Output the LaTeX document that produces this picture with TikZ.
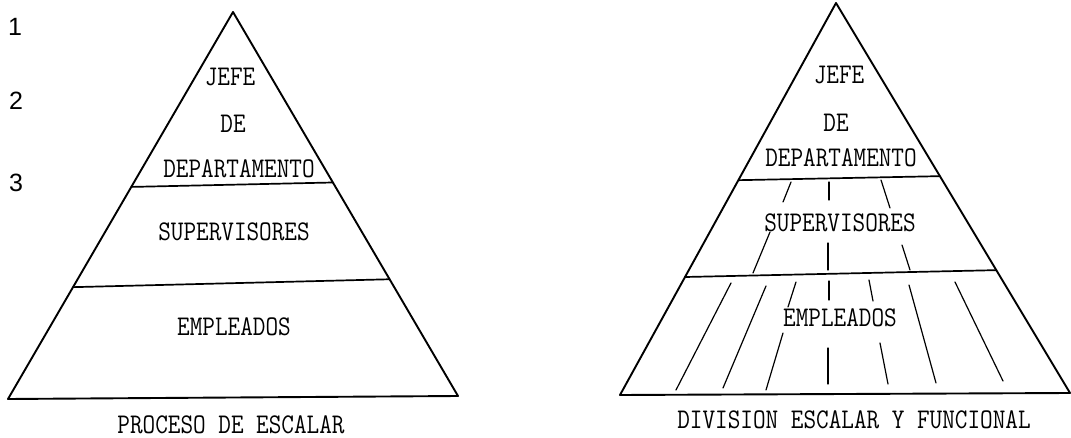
\documentclass[tikz,border=0pt]{standalone}
\usepackage{fontspec}
\usetikzlibrary{calc}
\newfontfamily\numfont{Liberation Sans}
\newcommand{\condtxt}[1]{\scalebox{0.86}[1]{#1}}
\tikzset{
  pedge/.style={line width=1.9pt, line cap=round, line join=round},
  divider/.style={line width=1.7pt, line cap=round},
  tickln/.style={line width=1.2pt, line cap=round},
  lbl/.style={font=\fontsize{28.5}{30}\selectfont\ttfamily\addfontfeatures{FakeBold=0.9}, inner sep=0pt},
  num/.style={font=\numfont\fontsize{25}{27}\selectfont, inner sep=0pt},
}
\begin{document}
\begin{tikzpicture}[x=1pt,y=-1pt]
\useasboundingbox (0,0) rectangle (1071,438);
% ---------- left pyramid ----------
\coordinate (LA) at (233,12);
\coordinate (LB) at (8,399);
\coordinate (LC) at (458,396);
\draw[pedge] (LB) -- (LA) -- (LC) -- cycle;
\coordinate (L1a) at ($(LA)!0.452!(LB)$);
\coordinate (L1b) at ($(LA)!0.444!(LC)$);
\coordinate (L2a) at ($(LA)!0.711!(LB)$);
\coordinate (L2b) at ($(LA)!0.696!(LC)$);
\draw[divider] (L1a) -- (L1b);
\draw[divider] (L2a) -- (L2b);
\node[lbl] (jefeL) at (230,77) {\condtxt{JEFE}};
\node[lbl] (deL) at (233,124) {\condtxt{DE}};
\node[lbl] (depL) at (239,169) {\condtxt{DEPARTAMENTO}};
\node[lbl] (supL) at (234,232) {\condtxt{SUPERVISORES}};
\node[lbl] (empL) at (234,327) {\condtxt{EMPLEADOS}};
\node[lbl] (capL) at (231,425) {\condtxt{PROCESO DE ESCALAR}};
\node[num] (n1) at (15,27) {1};
\node[num] (n2) at (16,101) {2};
\node[num] (n3) at (16,183) {3};
% ---------- right pyramid ----------
\coordinate (RA) at (836,3);
\coordinate (RB) at (620,395);
\coordinate (RC) at (1070,393);
\draw[pedge] (RB) -- (RA) -- (RC) -- cycle;
\coordinate (R1a) at ($(RA)!0.452!(RB)$);
\coordinate (R1b) at ($(RA)!0.444!(RC)$);
\coordinate (R2a) at ($(RA)!0.699!(RB)$);
\coordinate (R2b) at ($(RA)!0.685!(RC)$);
\draw[divider] (R1a) -- (R1b);
\draw[divider] (R2a) -- (R2b);
\node[lbl] (jefeR) at (839,75) {\condtxt{JEFE}};
\node[lbl] (deR) at (836,123) {\condtxt{DE}};
\node[lbl] (depR) at (841,158) {\condtxt{DEPARTAMENTO}};
\node[lbl] (supR) at (840,223) {\condtxt{SUPERVISORES}};
\node[lbl] (empR) at (840,318) {\condtxt{EMPLEADOS}};
\node[lbl] (capR) at (854,420) {\condtxt{DIVISION ESCALAR Y FUNCIONAL}};
% functional division strokes, supervisors band
\draw[tickln] (791,182) -- (783,202);
\draw[tickln] (829,182) -- (829,200);
\draw[tickln] (881,180) -- (890,208);
\draw[tickln] (770,232) -- (753,273);
\draw[tickln] (828,243) -- (828,270);
\draw[tickln] (902,245) -- (910,270);
% employees band
\draw[tickln] (731,283) -- (676,390);
\draw[tickln] (766,286) -- (723,388);
\draw[tickln] (796,282) -- (788,307);
\draw[tickln] (829,281) -- (829,300);
\draw[tickln] (869,280) -- (873,301);
\draw[tickln] (909,285) -- (936,383);
\draw[tickln] (955,282) -- (1003,381);
\draw[tickln] (783,333) -- (766,390);
\draw[tickln] (828,348) -- (828,384);
\draw[tickln] (880,343) -- (888,384);
\end{tikzpicture}
\end{document}
